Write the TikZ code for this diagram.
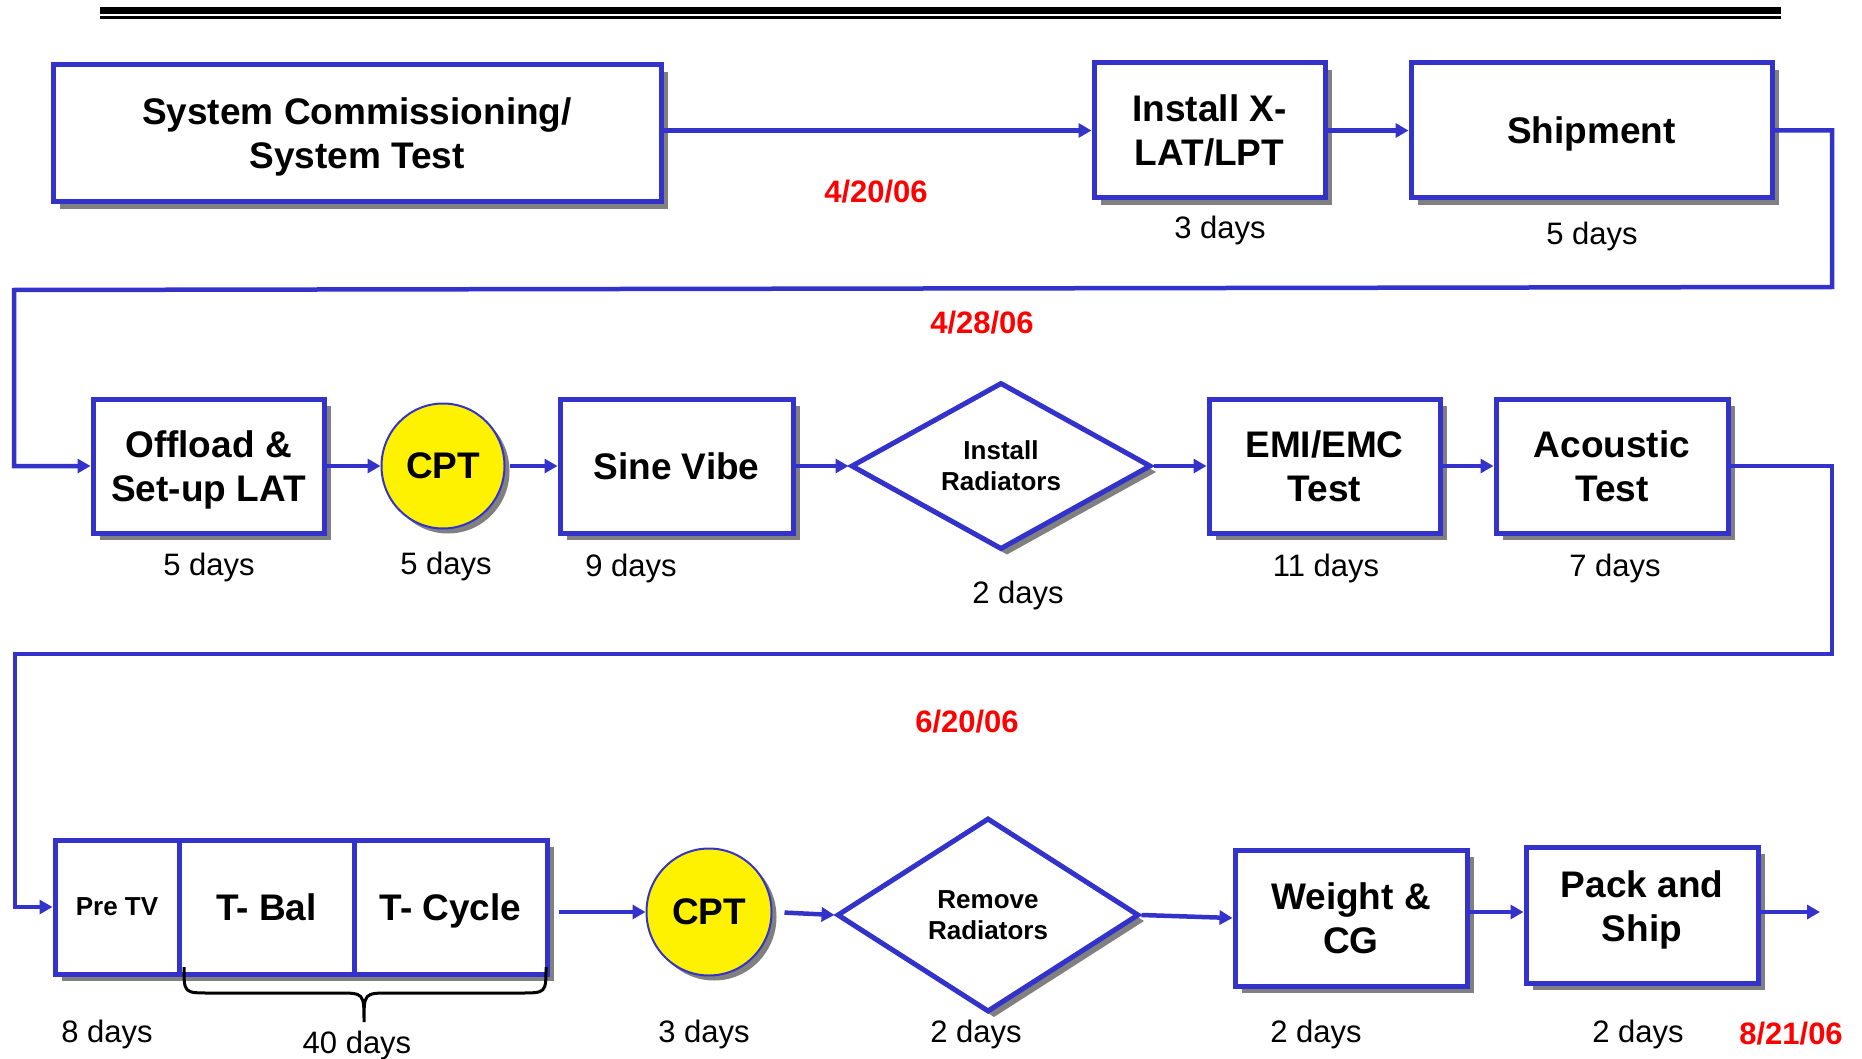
\documentclass[tikz,border=0pt]{standalone}
\usepackage{fontspec}
\setmainfont{Liberation Sans}
\usetikzlibrary{shapes.geometric,arrows.meta,shadows}
\definecolor{flowblue}{RGB}{51,51,204}
\definecolor{shade}{RGB}{128,128,128}
\definecolor{datered}{RGB}{255,0,0}
\begin{document}
\begin{tikzpicture}[x=1pt,y=-1pt,
  shad/.style={drop shadow={shadow xshift=7pt,shadow yshift=-7pt,fill=shade,opacity=1}},
  box/.style={rectangle,draw=flowblue,line width=5pt,fill=white,inner sep=0pt,align=center,
    text depth=0pt,font=\fontsize{37}{44}\selectfont\bfseries,shad},
  smallbox/.style={box,font=\fontsize{26}{31}\selectfont\bfseries},
  cptnode/.style={ellipse,draw=flowblue,line width=2pt,fill=yellow,inner sep=0pt,
    font=\fontsize{37}{44}\selectfont\bfseries,
    drop shadow={shadow xshift=5pt,shadow yshift=-5pt,fill=shade,opacity=1}},
  dia/.style={diamond,aspect=1.8,draw=flowblue,line width=5pt,fill=white,inner sep=0pt,align=center,
    font=\fontsize{26}{31}\selectfont\bfseries,
    drop shadow={shadow xshift=6pt,shadow yshift=-6pt,fill=shade,opacity=1}},
  days/.style={font=\fontsize{31}{37}\selectfont,inner sep=0pt},
  datelbl/.style={font=\fontsize{31}{37}\selectfont\bfseries,text=datered,inner sep=0pt},
  conn/.style={draw=flowblue,line width=4.5pt},
  arr/.style={conn,-{Triangle[length=13pt,width=14pt]}},
]
\useasboundingbox (0,0) rectangle (1862,1059);
\fill[white] (0,0) rectangle (1862,1059);

% top rule
\draw[line width=7pt] (100,11) -- (1781,11);
\draw[line width=2.5pt] (100,17.5) -- (1781,17.5);

% Row 1
\node[box,minimum width=608pt,minimum height=137pt] (sys) at (357,133.5) {System Commissioning/\\System Test};
\node[box,minimum width=231pt,minimum height=135pt] (inst) at (1209.5,130.5) {Install X-\\LAT/LPT};
\node[box,minimum width=361pt,minimum height=135pt] (ship) at (1591.5,130.5) {Shipment};

\draw[arr] (sys.east |- inst.west) -- (inst.west);
\draw[arr] (inst.east) -- (ship.west);

\node[datelbl] (d1) at (876,192) {4/20/06};
\node[days] (l1) at (1220,230) {3 days};
\node[days] (l2) at (1592,236) {5 days};
\node[datelbl] (d2) at (982,323) {4/28/06};

% Row 2
\node[box,minimum width=231pt,minimum height=134pt] (off) at (208.5,466) {Offload \&\\Set-up LAT};
\node[cptnode,minimum width=123pt,minimum height=125pt] (cpta) at (443,466) {CPT};
\node[box,minimum width=233pt,minimum height=134pt] (sine) at (676.5,466) {Sine Vibe};
\node[dia,minimum width=300pt,minimum height=167pt] (inrad) at (1001,466) {Install\\Radiators};
\node[box,minimum width=231pt,minimum height=134pt] (emi) at (1324.5,466) {EMI/EMC\\Test};
\node[box,minimum width=232pt,minimum height=134pt] (acou) at (1612,466) {Acoustic\\Test};

\coordinate (t1) at (1832,287);
\coordinate (t2) at (14,290);
\draw[arr] (ship.east) -| (t1) -- (t2) |- (off.west);

\draw[arr] (off.east) -- (cpta.west);
\draw[arr,shorten <=4pt] (cpta.east) -- (sine.west);
\draw[arr] (sine.east) -- (inrad.west);
\draw[arr] (inrad.east) -- (emi.west);
\draw[arr] (emi.east) -- (acou.west);

\node[days] (l3) at (209,567) {5 days};
\node[days] (l4) at (446,566) {5 days};
\node[days] (l5) at (631,568) {9 days};
\node[days] (l6) at (1018,595) {2 days};
\node[days] (l7) at (1326,568) {11 days};
\node[days] (l8) at (1615,568) {7 days};

\coordinate (t3) at (1832,654);
\coordinate (t4) at (15,654);
\node[datelbl] (d3) at (967,722) {6/20/06};

% Row 3
\node[smallbox,minimum width=124pt,minimum height=134pt] (pretv) at (117,907) {Pre TV};
\node[box,minimum width=175pt,minimum height=134pt] (tbal) at (266.5,907) {T- Bal};
\node[box,minimum width=193pt,minimum height=134pt] (tcyc) at (450.5,907) {T- Cycle};
\node[cptnode,minimum width=125pt,minimum height=127pt] (cptb) at (709,912) {CPT};
\node[dia,minimum width=302pt,minimum height=194pt] (rmrad) at (988,915) {Remove\\Radiators};
\node[box,minimum width=232pt,minimum height=136pt] (wcg) at (1351,918) {Weight \&\\CG};
\node[box,minimum width=232pt,minimum height=136pt,text depth=18pt] (pack) at (1642,915) {Pack and\\Ship};
\coordinate (fin) at (1820,912);

\draw[arr] (acou.east) -| (t3) -- (t4) |- (pretv.west);
\draw[arr,shorten <=9pt] (tcyc.east |- cptb.west) -- (cptb.west);
\draw[arr,shorten <=12pt] (cptb.east) -- (rmrad.west);
\draw[arr] (rmrad.east) -- (wcg.west);
\draw[arr] (wcg.east |- fin) -- (pack.west |- fin);
\draw[arr] (pack.east |- fin) -- (fin);

% brace
\draw[line width=3pt,black] (184,967) .. controls (184,993) and (184,993) .. (210,993) -- (338,993)
  .. controls (364,993) and (364,993) .. (364,1022)
  .. controls (364,993) and (364,993) .. (390,993) -- (520,993)
  .. controls (546,993) and (546,993) .. (546,967);

\node[days] (l9) at (107,1034) {8 days};
\node[days] (l10) at (357,1045) {40 days};
\node[days] (l11) at (704,1034) {3 days};
\node[days] (l12) at (976,1034) {2 days};
\node[days] (l13) at (1316,1034) {2 days};
\node[days] (l14) at (1638,1034) {2 days};
\node[datelbl] (d4) at (1791,1034) {8/21/06};
\end{tikzpicture}
\end{document}
